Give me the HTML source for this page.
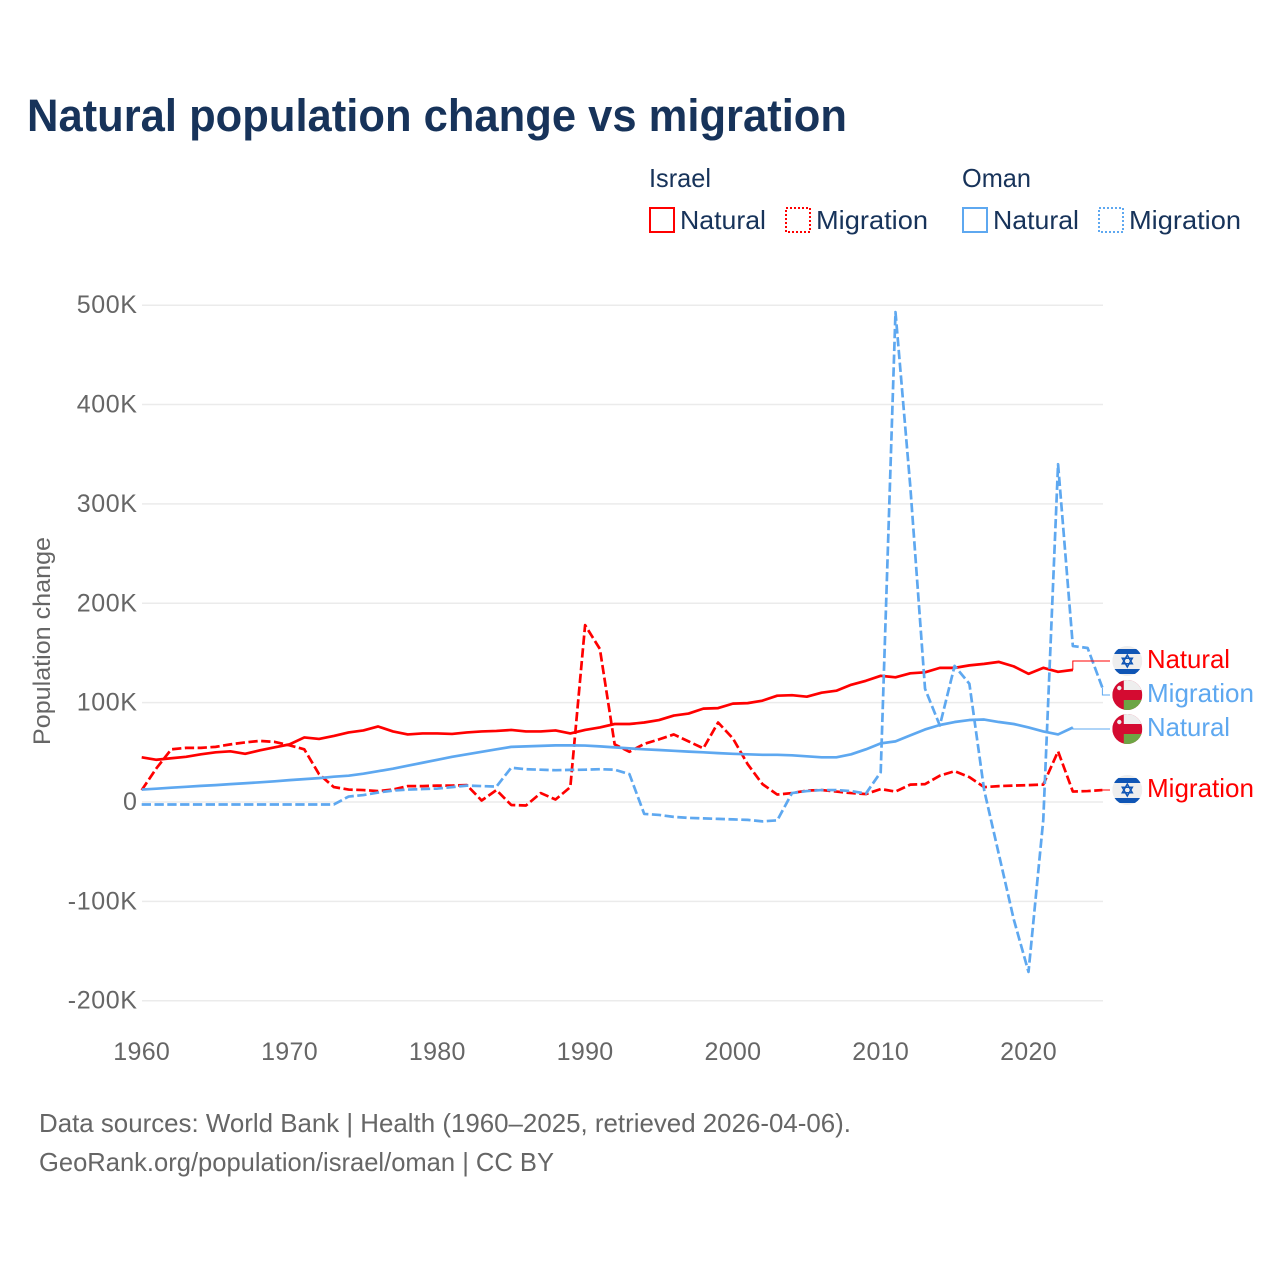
<!DOCTYPE html>
<html lang="en">
<head>
<meta charset="utf-8">
<title>Natural population change vs migration</title>
<style>
html,body{margin:0;padding:0;background:#fff;width:1280px;height:1280px;overflow:hidden}
svg{display:block}
text{font-family:"Liberation Sans",sans-serif}
</style>
</head>
<body>
<svg id="chart" xmlns="http://www.w3.org/2000/svg" width="1280" height="1280" viewBox="0 0 1280 1280">
  <defs>
    <clipPath id="flag-clip"><circle cx="0" cy="0" r="15"/></clipPath>
    <g id="flag-israel">
      <g clip-path="url(#flag-clip)">
        <rect x="-15" y="-15" width="30" height="30" fill="#eeeeee"/>
        <rect x="-15" y="-12" width="30" height="5" fill="#0f55b5"/>
        <rect x="-15" y="8" width="30" height="5" fill="#0f55b5"/>
        <polygon points="0,-6 5,2.7 -5,2.7" fill="none" stroke="#0f55b5" stroke-width="1.5"/>
        <polygon points="0,6 5,-2.7 -5,-2.7" fill="none" stroke="#0f55b5" stroke-width="1.5"/>
      </g>
    </g>
    <g id="flag-oman">
      <g clip-path="url(#flag-clip)">
        <rect x="-15" y="-15" width="30" height="30" fill="#d40b31"/>
        <rect x="-3.5" y="-15" width="19" height="10" fill="#eeeeee"/>
        <rect x="-3.5" y="5" width="19" height="10" fill="#6da544"/>
        <circle cx="-8" cy="-7" r="2.2" fill="#eeeeee"/>
      </g>
    </g>
  </defs>

  <text x="27" y="131" font-size="45" font-weight="700" fill="#17335a" textLength="820" lengthAdjust="spacingAndGlyphs">Natural population change vs migration</text>

  <g font-size="26" fill="#17335a">
    <text x="649" y="187" textLength="62" lengthAdjust="spacingAndGlyphs">Israel</text>
    <text x="962" y="187" textLength="69" lengthAdjust="spacingAndGlyphs">Oman</text>
    <rect x="650" y="208" width="24" height="24" fill="none" stroke="#ff0000" stroke-width="2"/>
    <text x="680" y="229" textLength="86" lengthAdjust="spacingAndGlyphs">Natural</text>
    <rect x="786" y="208" width="24" height="24" fill="none" stroke="#ff0000" stroke-width="2" stroke-dasharray="2 2"/>
    <text x="816" y="229" textLength="112" lengthAdjust="spacingAndGlyphs">Migration</text>
    <rect x="963" y="208" width="24" height="24" fill="none" stroke="#5ea8f0" stroke-width="2"/>
    <text x="993" y="229" textLength="86" lengthAdjust="spacingAndGlyphs">Natural</text>
    <rect x="1099" y="208" width="24" height="24" fill="none" stroke="#5ea8f0" stroke-width="2" stroke-dasharray="2 2"/>
    <text x="1129" y="229" textLength="112" lengthAdjust="spacingAndGlyphs">Migration</text>
  </g>

  <g id="grid"></g>
  <g id="y-ticks"></g>
  <g id="x-ticks"></g>
  <text x="0" y="0" transform="translate(50 641) rotate(-90)" text-anchor="middle" font-size="24" fill="#666666" textLength="208" lengthAdjust="spacingAndGlyphs">Population change</text>
  <g id="series"></g>
  <g id="labels"></g>

  <g font-size="26" fill="#666666">
    <text x="39" y="1132" textLength="812" lengthAdjust="spacingAndGlyphs">Data sources: World Bank | Health (1960–2025, retrieved 2026-04-06).</text>
    <text x="39" y="1171" textLength="515" lengthAdjust="spacingAndGlyphs">GeoRank.org/population/israel/oman | CC BY</text>
  </g>
</svg>
<script>
const startYear = 1960;
const xTickYears = [1960, 1970, 1980, 1990, 2000, 2010, 2020];
const yTickValues = [500, 400, 300, 200, 100, 0, -100, -200];
const yTickLabels = ['500K', '400K', '300K', '200K', '100K', '0', '-100K', '-200K'];

// Values in thousands of people, one per year from 1960
const israelNatural = [45,42.5,44,45.5,48,50,51,48.5,52,55,58,65,63.5,66.5,70,72,76,71,68,69,69,68.5,70,71,71.5,72.5,71,71,72,69,72.5,75,78.5,78.5,80,82.5,87,89,94,94.5,99,99.5,102,107,107.5,106,110,112,118,122,127,125.5,129.5,130.5,135,135,137.5,139,141,136.5,129,135,131,133];
const israelMigration = [12,34,53,54.5,54.5,55.5,58,60,61.5,60.5,57,53,28,15,12.5,12,11,12.5,16,16,16.5,16.5,17,1.5,12,-3,-3.5,9,2.5,15,178,154,58,50.5,58.5,63,68,61,54,80,64,38,18,7.5,9,11.5,12,10.5,9,8,13,10.5,17.5,18,26.5,31,25,15,16,16.5,17,17.5,51,10.5,11,12];
const omanNatural = [12.5,13.4,14.4,15.3,16.2,17,18,18.9,19.8,20.8,22,23,24,25.5,26.5,28.5,31,33.5,36.5,39.5,42.5,45.5,48,50.5,53,55.5,56,56.5,57,57,56.8,56,55,54,53,52.3,51.5,50.7,50,49.2,48.5,48,47.5,47.5,47,46,45,45,48,53,59,61,67,73,77.5,80.5,82.5,83,80.5,78.5,75,71,68,75];
const omanMigration = [-2.5,-2.5,-2.5,-2.5,-2.5,-2.5,-2.5,-2.5,-2.5,-2.5,-2.5,-2.5,-2.5,-2.5,5.5,7,9.5,11.5,12.5,13,13.5,15,16.5,16,15.5,34.5,33,32.5,32,32.3,32.5,33,32.5,28,-12,-13,-15,-16,-16.5,-17,-17.5,-18,-19.5,-18.5,9,11,12,12,11,8.5,30,493,318,114,77,137,119,12,-53,-118,-171,-18,340,157,155,115];

const NS = 'http://www.w3.org/2000/svg';
const RED = '#ff0000';
const BLUE = '#5ea8f0';
const plotLeft = 142, plotRight = 1103, labelLeaderEnd = 1110;

function xScale(year) { return 141.7 + (year - 1960) * 14.78; }
function yScale(value) { return 802 - value * 0.9936; }

function make(tag, attrs, parent) {
  const el = document.createElementNS(NS, tag);
  for (const k in attrs) el.setAttribute(k, attrs[k]);
  parent.appendChild(el);
  return el;
}

const gridG = document.getElementById('grid');
const yG = document.getElementById('y-ticks');
const xG = document.getElementById('x-ticks');
const seriesG = document.getElementById('series');
const labelsG = document.getElementById('labels');

yTickValues.forEach(function (v, i) {
  const line = make('line', {x1: plotLeft, x2: plotRight, y1: yScale(v), y2: yScale(v), stroke: '#ebebeb', 'stroke-width': 1.5}, gridG);
  
  
  const t = make('text', {x: 137.5, y: yScale(v) + 8, 'text-anchor': 'end', 'font-size': 25, 'letter-spacing': 0.6, fill: '#666666'}, yG);
  
  
  t.textContent = yTickLabels[i];
});

xTickYears.forEach(function (y) {
  const t = make('text', {x: xScale(y), y: 1060, 'text-anchor': 'middle', 'font-size': 25, 'letter-spacing': 0.3, fill: '#666666'}, xG);
  
  
  t.textContent = y;
});

function drawSeries(values, color, dashed, name) {
  const pts = values.map(function (v, i) { return xScale(startYear + i).toFixed(2) + ',' + yScale(v).toFixed(2); }).join(' ');
  const attrs = {points: pts, fill: 'none', stroke: color, 'stroke-width': 2.7, 'stroke-linejoin': 'round'};
  if (dashed) attrs['stroke-dasharray'] = '9.3 3.5';
  const line = make('polyline', attrs, seriesG);
  
  
}

drawSeries(israelNatural, RED, false, 'line-israel-natural');
drawSeries(israelMigration, RED, true, 'line-israel-migration');
drawSeries(omanNatural, BLUE, false, 'line-oman-natural');
drawSeries(omanMigration, BLUE, true, 'line-oman-migration');

function drawEndLabel(values, color, flag, text, labelY, name) {
  const i = values.length - 1;
  const ex = xScale(startYear + i), ey = yScale(values[i]);
  const leader = make('polyline', {points: ex + ',' + ey + ' ' + ex + ',' + labelY + ' ' + labelLeaderEnd + ',' + labelY, fill: 'none', stroke: color, 'stroke-width': 1}, labelsG);
  
  
  const f = make('use', {href: '#' + flag, x: 1127.3, y: labelY}, labelsG);
  
  
  const t = make('text', {x: 1147, y: labelY + 7, 'font-size': 26, fill: color, textLength: text === 'Natural' ? 83 : 107, lengthAdjust: 'spacingAndGlyphs'}, labelsG);
  
  
  t.textContent = text;
}

drawEndLabel(israelNatural, RED, 'flag-israel', 'Natural', 661, 'end-israel-natural');
drawEndLabel(omanMigration, BLUE, 'flag-oman', 'Migration', 695, 'end-oman-migration');
drawEndLabel(omanNatural, BLUE, 'flag-oman', 'Natural', 729, 'end-oman-natural');
drawEndLabel(israelMigration, RED, 'flag-israel', 'Migration', 790, 'end-israel-migration');
</script>
</body>
</html>
